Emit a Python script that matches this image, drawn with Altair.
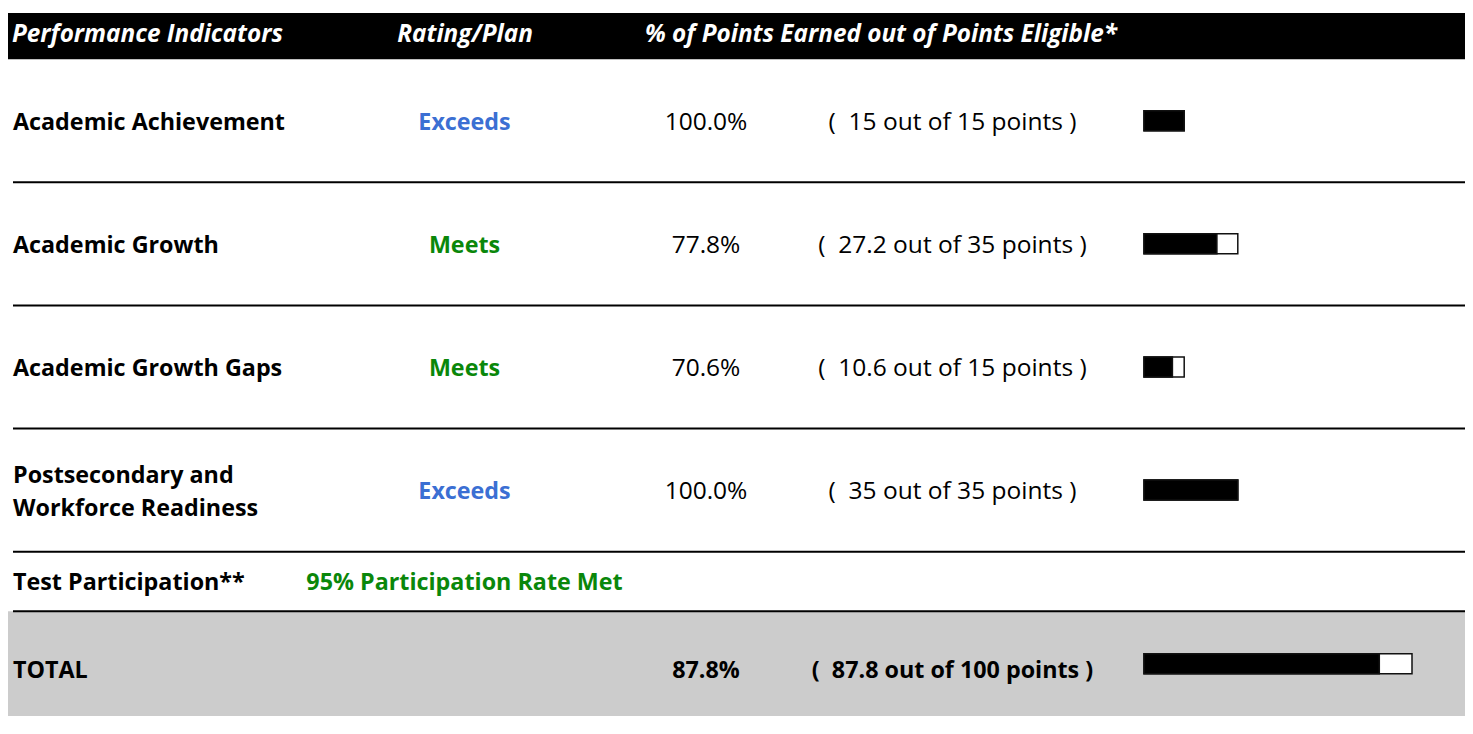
import altair as alt
import pandas as pd
import numpy as np

# ---------------- data ----------------
headers = ["Performance Indicators", "Rating/Plan", "% of Points Earned out of Points Eligible*"]
indicators = ["Academic Achievement", "Academic Growth", "Academic Growth Gaps",
              "Postsecondary and\nWorkforce Readiness"]
ratings = ["Exceeds", "Meets", "Meets", "Exceeds"]
percents = [100.0, 77.8, 70.6, 100.0]
earned = [15, 27.2, 10.6, 35]
eligible = [15, 35, 15, 35]
participation_label = "Test Participation**"
participation_status = "95% Participation Rate Met"
total_label = "TOTAL"
total_percent = 87.8
total_earned = 87.8
total_eligible = 100

rating_colors = {"Exceeds": "#3b6fd3", "Meets": "#0a870a"}

# relative row heights: header, 4 indicators, participation, total
row_units = [0.75, 2, 2, 2, 2, 0.97, 1.7]

# ---------------- layout ----------------
W, H = 1457, 713
FONT = "Open Sans"
FS_BOLD = 23.3
FS_REG = 24.5
FS_HEAD = 24.3
LINE_H = 33
bounds = np.concatenate([[0], np.cumsum(row_units)])
centers = [(bounds[i] + bounds[i + 1]) / 2 for i in range(len(row_units))]
total_units = float(bounds[-1])

yscale = alt.Scale(domain=[0, total_units], reverse=True, nice=False, zero=False)
Y = lambda f: alt.Y(f, scale=yscale, axis=None)


def fmt_pts(e, el):
    return f"(\u00a0 {e:g} out of {el:g} points )"


ind_df = pd.DataFrame({
    "label": indicators,
    "rating": ratings,
    "pct": [f"{p:.1f}%" for p in percents],
    "pts": [fmt_pts(e, el) for e, el in zip(earned, eligible)],
    "earned": earned,
    "eligible": eligible,
    "yc": centers[1:5],
})
tot_df = pd.DataFrame({
    "label": [total_label],
    "pct": [f"{total_percent:.1f}%"],
    "pts": [fmt_pts(total_earned, total_eligible)],
    "earned": [total_earned],
    "eligible": [total_eligible],
    "yc": [centers[6]],
})
part_df = pd.DataFrame({"label": [participation_label], "status": [participation_status],
                        "yc": [centers[5]]})
head_df = pd.DataFrame({"text": headers, "yc": [centers[0]] * 3})
band_df = pd.DataFrame({"y0": [bounds[0], bounds[6]], "y1": [bounds[1], bounds[7]],
                        "kind": ["header", "total"]})
rule_df = pd.DataFrame({"y": [bounds[2], bounds[3], bounds[4], bounds[5], bounds[6]]})
bar_df = pd.concat([ind_df[["earned", "eligible", "yc"]], tot_df[["earned", "eligible", "yc"]]])
bar_df["start"] = 0

multi = ind_df["label"].str.contains("\n")
single_df = ind_df[~multi]
multi_df = ind_df[multi]

bands = alt.Chart(band_df).mark_rect().encode(
    x=alt.value(0), x2=alt.value(W),
    y=Y("y0:Q"), y2="y1:Q",
    color=alt.Color("kind:N", scale=alt.Scale(domain=["header", "total"], range=["#000000", "#cccccc"]),
                    legend=None),
)

rules = alt.Chart(rule_df).mark_rule(color="#000000", strokeWidth=2).encode(
    x=alt.value(5), x2=alt.value(W), y=Y("y:Q"),
)


def text_layer(df, field, x, align="center", weight="normal", color="#000000", italic=False,
               size=None, dy=2, **kw):
    if size is None:
        size = FS_BOLD if weight == "bold" else FS_REG
    return alt.Chart(df).mark_text(
        align=align, baseline="middle", font=FONT, fontSize=size, fontWeight=weight,
        fontStyle="italic" if italic else "normal", color=color, dy=dy, **kw
    ).encode(x=alt.value(x), y=Y("yc:Q"), text=f"{field}:N")


head_cols = [(4, "left"), (457, "center"), (873, "center")]
head_layers = [
    text_layer(head_df.iloc[[i]], "text", x, align=a, weight="bold", color="#ffffff",
               italic=True, size=FS_HEAD, dy=-1)
    for i, (x, a) in enumerate(head_cols)
]

labels = text_layer(single_df, "label", 5, align="left", weight="bold")
labels_multi = text_layer(multi_df, "label", 5, align="left", weight="bold",
                          lineBreak="\n", lineHeight=LINE_H, dy=2 - LINE_H / 2)
rating_txt = alt.Chart(ind_df).mark_text(
    align="center", baseline="middle", font=FONT, fontSize=FS_BOLD, fontWeight="bold", dy=2
).encode(
    x=alt.value(456.5), y=Y("yc:Q"), text="rating:N",
    color=alt.Color("rating:N", scale=alt.Scale(domain=list(rating_colors), range=list(rating_colors.values())),
                    legend=None),
)
pct_txt = text_layer(ind_df, "pct", 698)
pts_txt = text_layer(ind_df, "pts", 944.5)

part_lbl = text_layer(part_df, "label", 5, align="left", weight="bold")
part_sts = text_layer(part_df, "status", 456.5, weight="bold", color=rating_colors["Meets"])

tot_lbl = text_layer(tot_df, "label", 5, align="left", weight="bold", dy=7)
tot_pct = text_layer(tot_df, "pct", 698, weight="bold", dy=7)
tot_pts = text_layer(tot_df, "pts", 944.5, weight="bold", dy=7)

xbar = alt.Scale(domain=[0, 100], range=[1136, 1404], nice=False, zero=True)
bar_out = alt.Chart(bar_df).mark_bar(height=20, fill="#ffffff", stroke="#111111", strokeWidth=1.5).encode(
    x=alt.X("start:Q", scale=xbar, axis=None), x2="eligible:Q", y=Y("yc:Q"),
)
bar_in = alt.Chart(bar_df).mark_bar(height=20, fill="#000000", stroke="#111111", strokeWidth=1.5).encode(
    x=alt.X("start:Q", scale=xbar, axis=None), x2="earned:Q", y=Y("yc:Q"),
)

chart = alt.layer(
    bands, rules, *head_layers, labels, labels_multi, rating_txt, pct_txt, pts_txt,
    part_lbl, part_sts, tot_lbl, tot_pct, tot_pts, bar_out, bar_in,
).resolve_scale(color="independent").properties(
    width=W, height=H, padding=0,
    autosize=alt.AutoSizeParams(type="none"),
).configure_view(stroke=None)

chart.save("out.html", embed_options={"renderer": "svg", "actions": False})
